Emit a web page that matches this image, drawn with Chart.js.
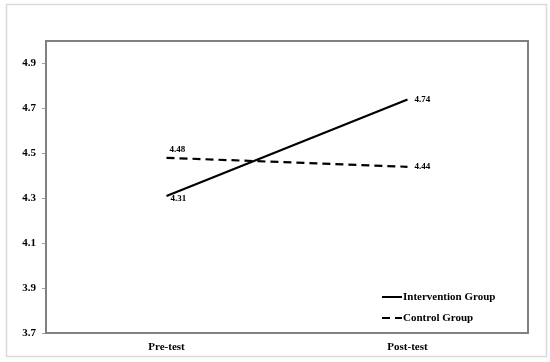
<!DOCTYPE html>
<html><head><meta charset="utf-8">
<script src="https://cdn.jsdelivr.net/npm/chart.js@4"></script>
<style>html,body{margin:0;padding:0;background:#fff}#wrap{width:550px;height:362px}</style>
</head><body><div id="wrap"><canvas id="c" width="550" height="362"></canvas></div>
<script>
const categories = ["Pre-test", "Post-test"];
const interventionValues = [4.31, 4.74];
const controlValues = [4.48, 4.44];
const yTicks = [3.7, 3.9, 4.1, 4.3, 4.5, 4.7, 4.9];
const seriesNames = ["Intervention Group", "Control Group"];

const FONT = "'Liberation Serif', 'Times New Roman', serif";

const decor = {
  id: 'decor',
  beforeDraw(chart) {
    const ctx = chart.ctx;
    ctx.save();
    ctx.fillStyle = '#fff';
    ctx.fillRect(0, 0, chart.width, chart.height);
    ctx.strokeStyle = '#d9d9d9';
    ctx.lineWidth = 1.5;
    ctx.strokeRect(6.5, 4.5, 540, 352);
    ctx.restore();
  },
  afterDatasetsDraw(chart) {
    const ctx = chart.ctx;
    const a = chart.chartArea;
    ctx.save();
    ctx.strokeStyle = '#808080';
    ctx.lineWidth = 2;
    ctx.strokeRect(a.left, a.top, a.right - a.left, a.bottom - a.top);
    // data labels
    ctx.fillStyle = '#000';
    ctx.font = "bold 9px " + FONT;
    ctx.textBaseline = 'middle';
    const m0 = chart.getDatasetMeta(0).data;
    const m1 = chart.getDatasetMeta(1).data;
    ctx.textAlign = 'left';
    ctx.fillText(interventionValues[0].toFixed(2), m0[0].x + 4, m0[0].y + 3);
    ctx.fillText(interventionValues[1].toFixed(2), m0[1].x + 7, m0[1].y);
    ctx.fillText(controlValues[0].toFixed(2), m1[0].x + 3, m1[0].y - 8);
    ctx.fillText(controlValues[1].toFixed(2), m1[1].x + 7, m1[1].y);
    // legend
    const lx = 382, ly = [297, 318];
    ctx.font = "bold 11px " + FONT;
    chart.data.datasets.forEach((ds, i) => {
      ctx.strokeStyle = '#000';
      ctx.lineWidth = 2;
      ctx.setLineDash(ds.borderDash || []);
      ctx.beginPath();
      ctx.moveTo(lx, ly[i]);
      ctx.lineTo(lx + 20, ly[i]);
      ctx.stroke();
      ctx.setLineDash([]);
      ctx.fillText(ds.label, lx + 21, ly[i]);
    });
    ctx.restore();
  }
};

new Chart(document.getElementById('c'), {
  type: 'line',
  data: {
    labels: categories,
    datasets: [
      { label: seriesNames[0], data: interventionValues, borderColor: '#000', borderWidth: 2.2, pointRadius: 0, tension: 0, fill: false },
      { label: seriesNames[1], data: controlValues, borderColor: '#000', borderWidth: 2.2, borderDash: [8, 5], pointRadius: 0, tension: 0, fill: false }
    ]
  },
  options: {
    responsive: false,
    animation: false,
    devicePixelRatio: 1,
    layout: { padding: { left: 0, top: 41, right: 22, bottom: 0 } },
    plugins: { legend: { display: false }, tooltip: { enabled: false } },
    scales: {
      x: {
        offset: true,
        grid: { display: false, drawTicks: false },
        border: { display: false },
        ticks: { color: '#000', font: { family: FONT, size: 11, weight: 'bold' }, padding: 8, maxRotation: 0 },
        afterFit(s) { s.height = 29; }
      },
      y: {
        min: 3.7, max: 5.0,
        afterBuildTicks(s) { s.ticks = yTicks.map(v => ({ value: v })); },
        grid: { drawOnChartArea: false, drawTicks: true, tickLength: 4, color: '#a0a0a0' },
        border: { display: false },
        ticks: { color: '#000', font: { family: FONT, size: 11, weight: 'bold' }, padding: 6, callback: v => Number(v).toFixed(1) },
        afterFit(s) { s.width = 46; }
      }
    }
  },
  plugins: [decor]
});
</script>
</body></html>
